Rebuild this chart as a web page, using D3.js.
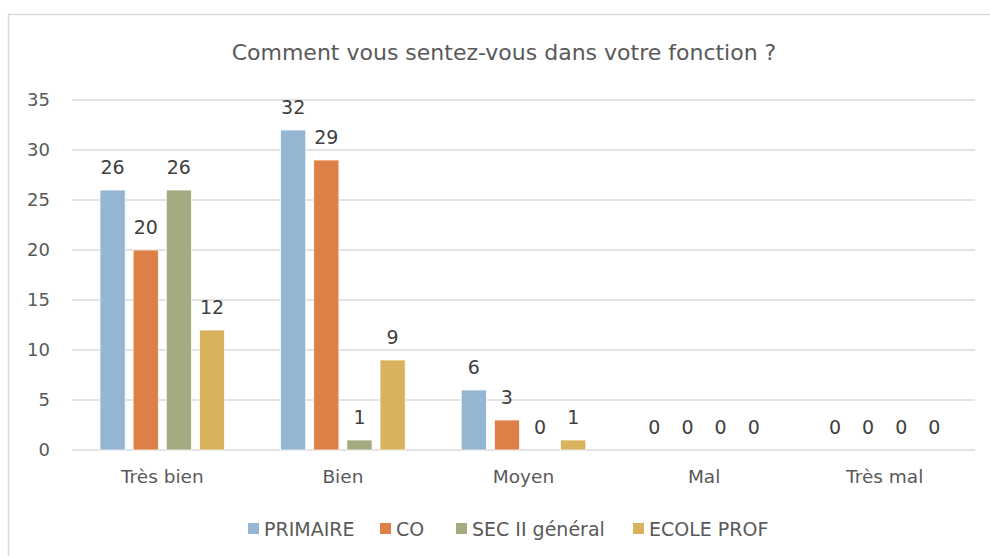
<!DOCTYPE html>
<html>
<head>
<meta charset="utf-8">
<script src="https://cdn.jsdelivr.net/npm/d3@7"></script>
<style>
  body { margin: 0; background: #fff; }
  svg { display: block; font-family: "DejaVu Sans", sans-serif; }
</style>
</head>
<body>
<div id="chart"></div>
<script>
// Data
const categories = ["Très bien", "Bien", "Moyen", "Mal", "Très mal"];
const seriesNames = ["PRIMAIRE", "CO", "SEC II général", "ECOLE PROF"];
const primaire = [26, 32, 6, 0, 0];
const co = [20, 29, 3, 0, 0];
const secII = [26, 1, 0, 0, 0];
const ecoleProf = [12, 9, 1, 0, 0];
const yTicks = [0, 5, 10, 15, 20, 25, 30, 35];
const colors = ["#94B6D2", "#DD8047", "#A5AB81", "#D8B25C"];

const allSeries = [primaire, co, secII, ecoleProf];

const width = 990, height = 556;
const margin = { top: 100, left: 72, right: 15, bottom: 106 };
const plotW = width - margin.left - margin.right;
const plotH = height - margin.top - margin.bottom;

const svg = d3.select("#chart").append("svg")
    .attr("width", width)
    .attr("height", height);

// chart frame
svg.append("path")
    .attr("d", `M8.5,${height} V14.5 H${width}`)
    .attr("fill", "none")
    .attr("stroke", "#d9d9d9")
    .attr("stroke-width", 1.5);

svg.append("text")
    .attr("x", 504)
    .attr("y", 60)
    .attr("text-anchor", "middle")
    .attr("fill", "#595959")
    .attr("font-size", 22)
    .text("Comment vous sentez-vous dans votre fonction ?");

const chart = svg.append("g")
    .attr("transform", `translate(${margin.left},${margin.top})`);

const x = d3.scaleBand()
    .domain(categories)
    .range([0, plotW]);

const x1 = d3.scaleBand()
    .domain(seriesNames)
    .range([28, x.bandwidth() - 28])
    .paddingInner(0.24);

const y = d3.scaleLinear()
    .domain([0, 35])
    .range([plotH, 0]);

// gridlines
chart.append("g")
    .selectAll("line")
    .data(yTicks)
    .enter().append("line")
    .attr("x1", 0)
    .attr("x2", plotW)
    .attr("y1", d => y(d))
    .attr("y2", d => y(d))
    .attr("stroke", "#d9d9d9")
    .attr("stroke-width", 1.5);

// y axis labels
const yAxis = chart.append("g")
    .call(d3.axisLeft(y).tickValues(yTicks).tickSize(0).tickPadding(22));
yAxis.select(".domain").remove();
yAxis.selectAll("text")
    .attr("fill", "#595959")
    .attr("font-size", 18)
    .attr("font-family", "DejaVu Sans, sans-serif");

// x axis labels
const xAxis = chart.append("g")
    .attr("transform", `translate(0,${plotH})`)
    .call(d3.axisBottom(x).tickSize(0).tickPadding(20));
xAxis.select(".domain").remove();
xAxis.selectAll("text")
    .attr("fill", "#595959")
    .attr("font-size", 18.5)
    .attr("font-family", "DejaVu Sans, sans-serif");

// bars
const groups = chart.selectAll(".group")
    .data(categories)
    .enter().append("g")
    .attr("class", "group")
    .attr("transform", d => `translate(${x(d)},0)`);

groups.selectAll("rect")
    .data((d, i) => allSeries.map((s, j) => ({ name: seriesNames[j], value: s[i], color: colors[j] })))
    .enter().append("rect")
    .attr("x", d => x1(d.name))
    .attr("width", x1.bandwidth())
    .attr("y", d => y(d.value))
    .attr("height", d => plotH - y(d.value))
    .attr("fill", d => d.color)
    .attr("stroke", "#fff")
    .attr("stroke-width", 0.75);

groups.selectAll(".label")
    .data((d, i) => allSeries.map((s, j) => ({ name: seriesNames[j], value: s[i] })))
    .enter().append("text")
    .attr("class", "label")
    .attr("x", d => x1(d.name) + x1.bandwidth() / 2)
    .attr("y", d => y(d.value) - 16)
    .attr("text-anchor", "middle")
    .attr("fill", "#404040")
    .attr("font-size", 19)
    .text(d => d.value);

// legend
const legendX = [248, 380, 456, 633];
const legend = svg.append("g");
seriesNames.forEach((name, i) => {
    const g = legend.append("g").attr("transform", `translate(${legendX[i]},523)`);
    g.append("rect")
        .attr("width", 11)
        .attr("height", 11)
        .attr("fill", colors[i]);
    g.append("text")
        .attr("x", 16)
        .attr("y", 13)
        .attr("fill", "#595959")
        .attr("font-size", 19)
        .text(name);
});
</script>
</body>
</html>
